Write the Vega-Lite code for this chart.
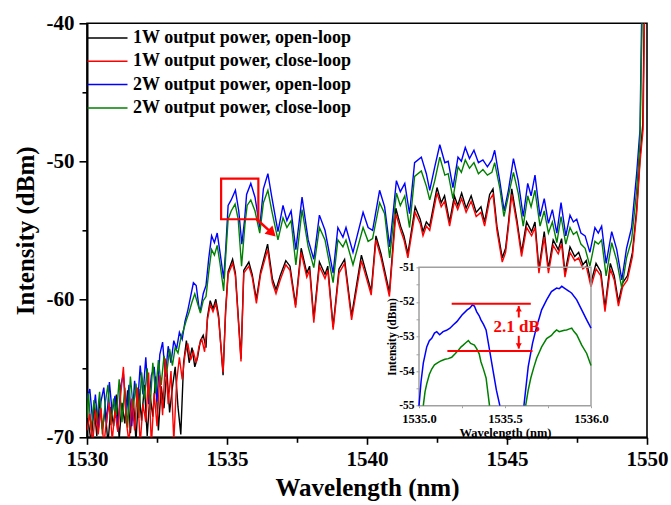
{
"$schema":"https://vega.github.io/schema/vega-lite/v6.json",
"width":560,"height":414,"autosize":"none",
"padding":{"left":87,"top":23.3,"right":24,"bottom":67.7},
"config":{"view":{"stroke":"black","strokeWidth":1.6},"font":"Liberation Serif"},
"datasets":{
"main":[
{"s":"1W output power, open-loop","w":1530.05,"i":-68.9},{"s":"1W output power, open-loop","w":1530.15,"i":-70.4},{"s":"1W output power, open-loop","w":1530.25,"i":-67.6},{"s":"1W output power, open-loop","w":1530.35,"i":-69.9},{"s":"1W output power, open-loop","w":1530.45,"i":-67.2},{"s":"1W output power, open-loop","w":1530.55,"i":-69.4},{"s":"1W output power, open-loop","w":1530.65,"i":-68.0},{"s":"1W output power, open-loop","w":1530.75,"i":-70.5},{"s":"1W output power, open-loop","w":1530.85,"i":-67.8},{"s":"1W output power, open-loop","w":1530.95,"i":-69.2},{"s":"1W output power, open-loop","w":1531.05,"i":-66.9},{"s":"1W output power, open-loop","w":1531.15,"i":-70.1},{"s":"1W output power, open-loop","w":1531.25,"i":-67.5},{"s":"1W output power, open-loop","w":1531.35,"i":-69.0},{"s":"1W output power, open-loop","w":1531.45,"i":-66.6},{"s":"1W output power, open-loop","w":1531.55,"i":-69.7},{"s":"1W output power, open-loop","w":1531.65,"i":-67.1},{"s":"1W output power, open-loop","w":1531.75,"i":-70.3},{"s":"1W output power, open-loop","w":1531.85,"i":-66.5},{"s":"1W output power, open-loop","w":1531.95,"i":-68.8},{"s":"1W output power, open-loop","w":1532.05,"i":-66.2},{"s":"1W output power, open-loop","w":1532.15,"i":-69.9},{"s":"1W output power, open-loop","w":1532.25,"i":-66.9},{"s":"1W output power, open-loop","w":1532.35,"i":-68.5},{"s":"1W output power, open-loop","w":1532.45,"i":-65.6},{"s":"1W output power, open-loop","w":1532.55,"i":-69.5},{"s":"1W output power, open-loop","w":1532.65,"i":-66.3},{"s":"1W output power, open-loop","w":1532.75,"i":-67.9},{"s":"1W output power, open-loop","w":1532.85,"i":-65.1},{"s":"1W output power, open-loop","w":1532.95,"i":-68.2},{"s":"1W output power, open-loop","w":1533.05,"i":-66.4},{"s":"1W output power, open-loop","w":1533.15,"i":-64.9},{"s":"1W output power, open-loop","w":1533.25,"i":-67.8},{"s":"1W output power, open-loop","w":1533.35,"i":-69.8},{"s":"1W output power, open-loop","w":1533.45,"i":-64.6},{"s":"1W output power, open-loop","w":1533.55,"i":-63.0},{"s":"1W output power, open-loop","w":1533.65,"i":-64.6},{"s":"1W output power, open-loop","w":1533.75,"i":-63.5},{"s":"1W output power, open-loop","w":1533.85,"i":-64.9},{"s":"1W output power, open-loop","w":1533.95,"i":-64.2},{"s":"1W output power, open-loop","w":1534.05,"i":-63.0},{"s":"1W output power, open-loop","w":1534.15,"i":-62.6},{"s":"1W output power, open-loop","w":1534.25,"i":-63.5},{"s":"1W output power, open-loop","w":1534.3,"i":-61.3},{"s":"1W output power, open-loop","w":1534.4,"i":-60.1},{"s":"1W output power, open-loop","w":1534.5,"i":-60.7},{"s":"1W output power, open-loop","w":1534.6,"i":-60.0},{"s":"1W output power, open-loop","w":1534.7,"i":-61.2},{"s":"1W output power, open-loop","w":1534.86,"i":-65.5},{"s":"1W output power, open-loop","w":1534.95,"i":-60.8},{"s":"1W output power, open-loop","w":1535.04,"i":-58.0},{"s":"1W output power, open-loop","w":1535.2,"i":-57.1},{"s":"1W output power, open-loop","w":1535.3,"i":-58.1},{"s":"1W output power, open-loop","w":1535.5,"i":-64.3},{"s":"1W output power, open-loop","w":1535.6,"i":-57.9},{"s":"1W output power, open-loop","w":1535.78,"i":-57.3},{"s":"1W output power, open-loop","w":1535.9,"i":-58.2},{"s":"1W output power, open-loop","w":1536.05,"i":-60.0},{"s":"1W output power, open-loop","w":1536.2,"i":-58.0},{"s":"1W output power, open-loop","w":1536.45,"i":-56.0},{"s":"1W output power, open-loop","w":1536.62,"i":-58.5},{"s":"1W output power, open-loop","w":1536.75,"i":-59.3},{"s":"1W output power, open-loop","w":1536.9,"i":-58.3},{"s":"1W output power, open-loop","w":1537.1,"i":-57.2},{"s":"1W output power, open-loop","w":1537.25,"i":-57.6},{"s":"1W output power, open-loop","w":1537.45,"i":-60.4},{"s":"1W output power, open-loop","w":1537.65,"i":-56.3},{"s":"1W output power, open-loop","w":1537.85,"i":-58.1},{"s":"1W output power, open-loop","w":1537.95,"i":-57.6},{"s":"1W output power, open-loop","w":1538.1,"i":-61.4},{"s":"1W output power, open-loop","w":1538.3,"i":-57.3},{"s":"1W output power, open-loop","w":1538.5,"i":-58.2},{"s":"1W output power, open-loop","w":1538.6,"i":-57.6},{"s":"1W output power, open-loop","w":1538.79,"i":-62.0},{"s":"1W output power, open-loop","w":1539.0,"i":-57.8},{"s":"1W output power, open-loop","w":1539.2,"i":-57.1},{"s":"1W output power, open-loop","w":1539.45,"i":-61.2},{"s":"1W output power, open-loop","w":1539.8,"i":-56.8},{"s":"1W output power, open-loop","w":1540.0,"i":-58.3},{"s":"1W output power, open-loop","w":1540.15,"i":-59.4},{"s":"1W output power, open-loop","w":1540.32,"i":-55.4},{"s":"1W output power, open-loop","w":1540.5,"i":-56.7},{"s":"1W output power, open-loop","w":1540.8,"i":-59.5},{"s":"1W output power, open-loop","w":1541.03,"i":-53.4},{"s":"1W output power, open-loop","w":1541.2,"i":-54.7},{"s":"1W output power, open-loop","w":1541.32,"i":-55.4},{"s":"1W output power, open-loop","w":1541.46,"i":-56.7},{"s":"1W output power, open-loop","w":1541.72,"i":-53.3},{"s":"1W output power, open-loop","w":1541.9,"i":-54.2},{"s":"1W output power, open-loop","w":1542.0,"i":-55.1},{"s":"1W output power, open-loop","w":1542.12,"i":-54.4},{"s":"1W output power, open-loop","w":1542.24,"i":-54.7},{"s":"1W output power, open-loop","w":1542.5,"i":-51.9},{"s":"1W output power, open-loop","w":1542.65,"i":-53.0},{"s":"1W output power, open-loop","w":1542.77,"i":-52.5},{"s":"1W output power, open-loop","w":1542.95,"i":-54.4},{"s":"1W output power, open-loop","w":1543.12,"i":-52.5},{"s":"1W output power, open-loop","w":1543.24,"i":-53.2},{"s":"1W output power, open-loop","w":1543.38,"i":-52.3},{"s":"1W output power, open-loop","w":1543.54,"i":-53.4},{"s":"1W output power, open-loop","w":1543.72,"i":-52.5},{"s":"1W output power, open-loop","w":1543.9,"i":-53.7},{"s":"1W output power, open-loop","w":1544.07,"i":-53.3},{"s":"1W output power, open-loop","w":1544.2,"i":-54.4},{"s":"1W output power, open-loop","w":1544.38,"i":-52.4},{"s":"1W output power, open-loop","w":1544.5,"i":-52.0},{"s":"1W output power, open-loop","w":1544.64,"i":-54.7},{"s":"1W output power, open-loop","w":1544.83,"i":-57.0},{"s":"1W output power, open-loop","w":1544.95,"i":-56.3},{"s":"1W output power, open-loop","w":1545.05,"i":-54.5},{"s":"1W output power, open-loop","w":1545.17,"i":-52.0},{"s":"1W output power, open-loop","w":1545.35,"i":-54.2},{"s":"1W output power, open-loop","w":1545.52,"i":-56.6},{"s":"1W output power, open-loop","w":1545.7,"i":-54.4},{"s":"1W output power, open-loop","w":1545.88,"i":-55.1},{"s":"1W output power, open-loop","w":1546.0,"i":-54.4},{"s":"1W output power, open-loop","w":1546.14,"i":-57.8},{"s":"1W output power, open-loop","w":1546.33,"i":-55.1},{"s":"1W output power, open-loop","w":1546.48,"i":-57.8},{"s":"1W output power, open-loop","w":1546.65,"i":-55.7},{"s":"1W output power, open-loop","w":1546.83,"i":-56.4},{"s":"1W output power, open-loop","w":1546.95,"i":-55.6},{"s":"1W output power, open-loop","w":1547.07,"i":-58.1},{"s":"1W output power, open-loop","w":1547.25,"i":-56.2},{"s":"1W output power, open-loop","w":1547.42,"i":-56.9},{"s":"1W output power, open-loop","w":1547.56,"i":-56.6},{"s":"1W output power, open-loop","w":1547.71,"i":-57.5},{"s":"1W output power, open-loop","w":1547.83,"i":-57.2},{"s":"1W output power, open-loop","w":1548.0,"i":-58.8},{"s":"1W output power, open-loop","w":1548.18,"i":-57.4},{"s":"1W output power, open-loop","w":1548.35,"i":-58.0},{"s":"1W output power, open-loop","w":1548.5,"i":-60.6},{"s":"1W output power, open-loop","w":1548.69,"i":-57.4},{"s":"1W output power, open-loop","w":1548.83,"i":-58.3},{"s":"1W output power, open-loop","w":1548.98,"i":-60.2},{"s":"1W output power, open-loop","w":1549.13,"i":-58.8},{"s":"1W output power, open-loop","w":1549.3,"i":-58.3},{"s":"1W output power, open-loop","w":1549.48,"i":-56.6},{"s":"1W output power, open-loop","w":1549.63,"i":-53.5},{"s":"1W output power, open-loop","w":1549.75,"i":-49.8},{"s":"1W output power, open-loop","w":1549.85,"i":-47.3},{"s":"1W output power, open-loop","w":1549.91,"i":-38},
{"s":"2W output power, open-loop","w":1530.0,"i":-67.2},{"s":"2W output power, open-loop","w":1530.1,"i":-66.5},{"s":"2W output power, open-loop","w":1530.2,"i":-68.8},{"s":"2W output power, open-loop","w":1530.3,"i":-66.9},{"s":"2W output power, open-loop","w":1530.4,"i":-69.5},{"s":"2W output power, open-loop","w":1530.5,"i":-67.4},{"s":"2W output power, open-loop","w":1530.6,"i":-66.4},{"s":"2W output power, open-loop","w":1530.7,"i":-69.0},{"s":"2W output power, open-loop","w":1530.8,"i":-66.0},{"s":"2W output power, open-loop","w":1530.9,"i":-68.2},{"s":"2W output power, open-loop","w":1531.0,"i":-67.0},{"s":"2W output power, open-loop","w":1531.1,"i":-69.6},{"s":"2W output power, open-loop","w":1531.2,"i":-66.3},{"s":"2W output power, open-loop","w":1531.3,"i":-65.4},{"s":"2W output power, open-loop","w":1531.4,"i":-68.5},{"s":"2W output power, open-loop","w":1531.5,"i":-66.2},{"s":"2W output power, open-loop","w":1531.6,"i":-69.2},{"s":"2W output power, open-loop","w":1531.7,"i":-65.9},{"s":"2W output power, open-loop","w":1531.8,"i":-67.8},{"s":"2W output power, open-loop","w":1531.9,"i":-64.8},{"s":"2W output power, open-loop","w":1532.0,"i":-66.9},{"s":"2W output power, open-loop","w":1532.1,"i":-64.2},{"s":"2W output power, open-loop","w":1532.2,"i":-67.6},{"s":"2W output power, open-loop","w":1532.3,"i":-65.5},{"s":"2W output power, open-loop","w":1532.4,"i":-64.9},{"s":"2W output power, open-loop","w":1532.5,"i":-67.4},{"s":"2W output power, open-loop","w":1532.6,"i":-64.0},{"s":"2W output power, open-loop","w":1532.7,"i":-63.1},{"s":"2W output power, open-loop","w":1532.8,"i":-65.6},{"s":"2W output power, open-loop","w":1532.9,"i":-63.4},{"s":"2W output power, open-loop","w":1533.0,"i":-64.6},{"s":"2W output power, open-loop","w":1533.1,"i":-63.0},{"s":"2W output power, open-loop","w":1533.2,"i":-63.6},{"s":"2W output power, open-loop","w":1533.3,"i":-62.4},{"s":"2W output power, open-loop","w":1533.4,"i":-62.9},{"s":"2W output power, open-loop","w":1533.5,"i":-61.6},{"s":"2W output power, open-loop","w":1533.6,"i":-60.8},{"s":"2W output power, open-loop","w":1533.7,"i":-59.8},{"s":"2W output power, open-loop","w":1533.8,"i":-58.8},{"s":"2W output power, open-loop","w":1533.9,"i":-59.0},{"s":"2W output power, open-loop","w":1534.0,"i":-60.6},{"s":"2W output power, open-loop","w":1534.05,"i":-60.8},{"s":"2W output power, open-loop","w":1534.15,"i":-59.6},{"s":"2W output power, open-loop","w":1534.25,"i":-59.0},{"s":"2W output power, open-loop","w":1534.35,"i":-57.0},{"s":"2W output power, open-loop","w":1534.45,"i":-55.4},{"s":"2W output power, open-loop","w":1534.55,"i":-55.9},{"s":"2W output power, open-loop","w":1534.65,"i":-55.2},{"s":"2W output power, open-loop","w":1534.75,"i":-56.6},{"s":"2W output power, open-loop","w":1534.88,"i":-58.5},{"s":"2W output power, open-loop","w":1534.95,"i":-56.5},{"s":"2W output power, open-loop","w":1535.04,"i":-53.2},{"s":"2W output power, open-loop","w":1535.15,"i":-52.8},{"s":"2W output power, open-loop","w":1535.3,"i":-52.1},{"s":"2W output power, open-loop","w":1535.42,"i":-53.6},{"s":"2W output power, open-loop","w":1535.53,"i":-56.0},{"s":"2W output power, open-loop","w":1535.63,"i":-54.2},{"s":"2W output power, open-loop","w":1535.7,"i":-52.4},{"s":"2W output power, open-loop","w":1535.85,"i":-51.6},{"s":"2W output power, open-loop","w":1536.0,"i":-52.6},{"s":"2W output power, open-loop","w":1536.17,"i":-54.8},{"s":"2W output power, open-loop","w":1536.3,"i":-52.0},{"s":"2W output power, open-loop","w":1536.46,"i":-50.9},{"s":"2W output power, open-loop","w":1536.6,"i":-52.6},{"s":"2W output power, open-loop","w":1536.82,"i":-55.1},{"s":"2W output power, open-loop","w":1537.0,"i":-53.2},{"s":"2W output power, open-loop","w":1537.14,"i":-54.3},{"s":"2W output power, open-loop","w":1537.29,"i":-53.6},{"s":"2W output power, open-loop","w":1537.46,"i":-56.4},{"s":"2W output power, open-loop","w":1537.68,"i":-52.6},{"s":"2W output power, open-loop","w":1537.9,"i":-55.7},{"s":"2W output power, open-loop","w":1538.1,"i":-57.1},{"s":"2W output power, open-loop","w":1538.3,"i":-53.9},{"s":"2W output power, open-loop","w":1538.5,"i":-55.0},{"s":"2W output power, open-loop","w":1538.79,"i":-58.1},{"s":"2W output power, open-loop","w":1538.96,"i":-54.8},{"s":"2W output power, open-loop","w":1539.14,"i":-55.5},{"s":"2W output power, open-loop","w":1539.25,"i":-54.8},{"s":"2W output power, open-loop","w":1539.5,"i":-56.6},{"s":"2W output power, open-loop","w":1539.86,"i":-53.7},{"s":"2W output power, open-loop","w":1540.04,"i":-54.8},{"s":"2W output power, open-loop","w":1540.2,"i":-55.0},{"s":"2W output power, open-loop","w":1540.45,"i":-52.1},{"s":"2W output power, open-loop","w":1540.63,"i":-53.3},{"s":"2W output power, open-loop","w":1540.81,"i":-56.2},{"s":"2W output power, open-loop","w":1541.05,"i":-51.4},{"s":"2W output power, open-loop","w":1541.19,"i":-52.2},{"s":"2W output power, open-loop","w":1541.35,"i":-51.6},{"s":"2W output power, open-loop","w":1541.52,"i":-53.8},{"s":"2W output power, open-loop","w":1541.7,"i":-50.1},{"s":"2W output power, open-loop","w":1541.94,"i":-49.7},{"s":"2W output power, open-loop","w":1542.12,"i":-50.9},{"s":"2W output power, open-loop","w":1542.24,"i":-52.1},{"s":"2W output power, open-loop","w":1542.42,"i":-50.4},{"s":"2W output power, open-loop","w":1542.6,"i":-48.8},{"s":"2W output power, open-loop","w":1542.78,"i":-50.1},{"s":"2W output power, open-loop","w":1542.9,"i":-50.0},{"s":"2W output power, open-loop","w":1543.07,"i":-51.9},{"s":"2W output power, open-loop","w":1543.25,"i":-49.7},{"s":"2W output power, open-loop","w":1543.37,"i":-50.0},{"s":"2W output power, open-loop","w":1543.51,"i":-49.0},{"s":"2W output power, open-loop","w":1543.66,"i":-49.8},{"s":"2W output power, open-loop","w":1543.82,"i":-49.2},{"s":"2W output power, open-loop","w":1543.98,"i":-50.1},{"s":"2W output power, open-loop","w":1544.14,"i":-49.9},{"s":"2W output power, open-loop","w":1544.3,"i":-50.4},{"s":"2W output power, open-loop","w":1544.46,"i":-49.9},{"s":"2W output power, open-loop","w":1544.56,"i":-49.2},{"s":"2W output power, open-loop","w":1544.74,"i":-51.4},{"s":"2W output power, open-loop","w":1544.9,"i":-53.6},{"s":"2W output power, open-loop","w":1545.05,"i":-52.1},{"s":"2W output power, open-loop","w":1545.23,"i":-49.8},{"s":"2W output power, open-loop","w":1545.4,"i":-51.4},{"s":"2W output power, open-loop","w":1545.58,"i":-54.0},{"s":"2W output power, open-loop","w":1545.74,"i":-51.6},{"s":"2W output power, open-loop","w":1545.86,"i":-52.5},{"s":"2W output power, open-loop","w":1546.0,"i":-51.0},{"s":"2W output power, open-loop","w":1546.18,"i":-54.0},{"s":"2W output power, open-loop","w":1546.33,"i":-52.7},{"s":"2W output power, open-loop","w":1546.48,"i":-54.5},{"s":"2W output power, open-loop","w":1546.62,"i":-53.5},{"s":"2W output power, open-loop","w":1546.78,"i":-55.2},{"s":"2W output power, open-loop","w":1546.93,"i":-53.0},{"s":"2W output power, open-loop","w":1547.1,"i":-55.4},{"s":"2W output power, open-loop","w":1547.25,"i":-53.9},{"s":"2W output power, open-loop","w":1547.37,"i":-54.4},{"s":"2W output power, open-loop","w":1547.49,"i":-54.2},{"s":"2W output power, open-loop","w":1547.64,"i":-55.2},{"s":"2W output power, open-loop","w":1547.79,"i":-55.4},{"s":"2W output power, open-loop","w":1547.96,"i":-56.6},{"s":"2W output power, open-loop","w":1548.14,"i":-54.8},{"s":"2W output power, open-loop","w":1548.26,"i":-55.2},{"s":"2W output power, open-loop","w":1548.38,"i":-54.7},{"s":"2W output power, open-loop","w":1548.54,"i":-57.4},{"s":"2W output power, open-loop","w":1548.74,"i":-55.1},{"s":"2W output power, open-loop","w":1548.92,"i":-56.4},{"s":"2W output power, open-loop","w":1549.1,"i":-58.6},{"s":"2W output power, open-loop","w":1549.27,"i":-56.3},{"s":"2W output power, open-loop","w":1549.45,"i":-54.8},{"s":"2W output power, open-loop","w":1549.63,"i":-50.9},{"s":"2W output power, open-loop","w":1549.75,"i":-47.7},{"s":"2W output power, open-loop","w":1549.82,"i":-38},
{"s":"2W output power, close-loop","w":1530.0,"i":-68.6},{"s":"2W output power, close-loop","w":1530.05,"i":-66.8},{"s":"2W output power, close-loop","w":1530.15,"i":-69.5},{"s":"2W output power, close-loop","w":1530.25,"i":-67.3},{"s":"2W output power, close-loop","w":1530.35,"i":-68.9},{"s":"2W output power, close-loop","w":1530.45,"i":-66.7},{"s":"2W output power, close-loop","w":1530.55,"i":-69.8},{"s":"2W output power, close-loop","w":1530.65,"i":-67.5},{"s":"2W output power, close-loop","w":1530.75,"i":-66.2},{"s":"2W output power, close-loop","w":1530.85,"i":-69.1},{"s":"2W output power, close-loop","w":1530.95,"i":-67.2},{"s":"2W output power, close-loop","w":1531.05,"i":-68.4},{"s":"2W output power, close-loop","w":1531.15,"i":-65.8},{"s":"2W output power, close-loop","w":1531.25,"i":-68.9},{"s":"2W output power, close-loop","w":1531.35,"i":-66.4},{"s":"2W output power, close-loop","w":1531.45,"i":-69.3},{"s":"2W output power, close-loop","w":1531.55,"i":-65.6},{"s":"2W output power, close-loop","w":1531.65,"i":-67.9},{"s":"2W output power, close-loop","w":1531.75,"i":-66.1},{"s":"2W output power, close-loop","w":1531.85,"i":-68.6},{"s":"2W output power, close-loop","w":1531.95,"i":-65.3},{"s":"2W output power, close-loop","w":1532.05,"i":-67.2},{"s":"2W output power, close-loop","w":1532.15,"i":-65.0},{"s":"2W output power, close-loop","w":1532.25,"i":-68.0},{"s":"2W output power, close-loop","w":1532.35,"i":-64.6},{"s":"2W output power, close-loop","w":1532.45,"i":-66.8},{"s":"2W output power, close-loop","w":1532.55,"i":-64.4},{"s":"2W output power, close-loop","w":1532.65,"i":-66.2},{"s":"2W output power, close-loop","w":1532.75,"i":-64.1},{"s":"2W output power, close-loop","w":1532.85,"i":-65.3},{"s":"2W output power, close-loop","w":1532.95,"i":-63.6},{"s":"2W output power, close-loop","w":1533.05,"i":-64.8},{"s":"2W output power, close-loop","w":1533.15,"i":-63.5},{"s":"2W output power, close-loop","w":1533.25,"i":-63.9},{"s":"2W output power, close-loop","w":1533.35,"i":-62.8},{"s":"2W output power, close-loop","w":1533.45,"i":-62.2},{"s":"2W output power, close-loop","w":1533.55,"i":-61.5},{"s":"2W output power, close-loop","w":1533.65,"i":-60.9},{"s":"2W output power, close-loop","w":1533.75,"i":-60.2},{"s":"2W output power, close-loop","w":1533.85,"i":-59.6},{"s":"2W output power, close-loop","w":1533.95,"i":-60.3},{"s":"2W output power, close-loop","w":1534.05,"i":-61.0},{"s":"2W output power, close-loop","w":1534.15,"i":-60.1},{"s":"2W output power, close-loop","w":1534.25,"i":-59.8},{"s":"2W output power, close-loop","w":1534.35,"i":-58.0},{"s":"2W output power, close-loop","w":1534.45,"i":-56.4},{"s":"2W output power, close-loop","w":1534.55,"i":-56.8},{"s":"2W output power, close-loop","w":1534.65,"i":-56.1},{"s":"2W output power, close-loop","w":1534.75,"i":-57.4},{"s":"2W output power, close-loop","w":1534.88,"i":-59.4},{"s":"2W output power, close-loop","w":1534.95,"i":-57.0},{"s":"2W output power, close-loop","w":1535.04,"i":-54.2},{"s":"2W output power, close-loop","w":1535.15,"i":-53.6},{"s":"2W output power, close-loop","w":1535.29,"i":-53.1},{"s":"2W output power, close-loop","w":1535.4,"i":-54.2},{"s":"2W output power, close-loop","w":1535.52,"i":-57.6},{"s":"2W output power, close-loop","w":1535.64,"i":-54.6},{"s":"2W output power, close-loop","w":1535.72,"i":-53.2},{"s":"2W output power, close-loop","w":1535.85,"i":-52.8},{"s":"2W output power, close-loop","w":1536.0,"i":-53.6},{"s":"2W output power, close-loop","w":1536.17,"i":-55.2},{"s":"2W output power, close-loop","w":1536.3,"i":-53.0},{"s":"2W output power, close-loop","w":1536.46,"i":-52.1},{"s":"2W output power, close-loop","w":1536.6,"i":-53.6},{"s":"2W output power, close-loop","w":1536.82,"i":-55.7},{"s":"2W output power, close-loop","w":1537.0,"i":-54.1},{"s":"2W output power, close-loop","w":1537.14,"i":-54.8},{"s":"2W output power, close-loop","w":1537.29,"i":-54.3},{"s":"2W output power, close-loop","w":1537.46,"i":-57.5},{"s":"2W output power, close-loop","w":1537.68,"i":-53.5},{"s":"2W output power, close-loop","w":1537.9,"i":-56.2},{"s":"2W output power, close-loop","w":1538.1,"i":-57.7},{"s":"2W output power, close-loop","w":1538.3,"i":-54.8},{"s":"2W output power, close-loop","w":1538.5,"i":-55.7},{"s":"2W output power, close-loop","w":1538.79,"i":-58.8},{"s":"2W output power, close-loop","w":1538.96,"i":-55.7},{"s":"2W output power, close-loop","w":1539.14,"i":-56.2},{"s":"2W output power, close-loop","w":1539.25,"i":-55.7},{"s":"2W output power, close-loop","w":1539.5,"i":-57.5},{"s":"2W output power, close-loop","w":1539.86,"i":-54.8},{"s":"2W output power, close-loop","w":1540.04,"i":-55.8},{"s":"2W output power, close-loop","w":1540.2,"i":-55.6},{"s":"2W output power, close-loop","w":1540.45,"i":-53.0},{"s":"2W output power, close-loop","w":1540.63,"i":-53.8},{"s":"2W output power, close-loop","w":1540.81,"i":-57.0},{"s":"2W output power, close-loop","w":1541.05,"i":-52.3},{"s":"2W output power, close-loop","w":1541.19,"i":-53.2},{"s":"2W output power, close-loop","w":1541.35,"i":-52.5},{"s":"2W output power, close-loop","w":1541.52,"i":-54.8},{"s":"2W output power, close-loop","w":1541.7,"i":-51.1},{"s":"2W output power, close-loop","w":1541.94,"i":-50.7},{"s":"2W output power, close-loop","w":1542.12,"i":-51.8},{"s":"2W output power, close-loop","w":1542.24,"i":-52.8},{"s":"2W output power, close-loop","w":1542.42,"i":-51.4},{"s":"2W output power, close-loop","w":1542.6,"i":-49.7},{"s":"2W output power, close-loop","w":1542.78,"i":-51.0},{"s":"2W output power, close-loop","w":1542.9,"i":-50.9},{"s":"2W output power, close-loop","w":1543.07,"i":-52.7},{"s":"2W output power, close-loop","w":1543.25,"i":-50.4},{"s":"2W output power, close-loop","w":1543.37,"i":-50.8},{"s":"2W output power, close-loop","w":1543.51,"i":-49.9},{"s":"2W output power, close-loop","w":1543.66,"i":-50.5},{"s":"2W output power, close-loop","w":1543.82,"i":-50.1},{"s":"2W output power, close-loop","w":1543.98,"i":-50.9},{"s":"2W output power, close-loop","w":1544.14,"i":-50.6},{"s":"2W output power, close-loop","w":1544.3,"i":-51.0},{"s":"2W output power, close-loop","w":1544.46,"i":-50.8},{"s":"2W output power, close-loop","w":1544.56,"i":-50.1},{"s":"2W output power, close-loop","w":1544.74,"i":-51.9},{"s":"2W output power, close-loop","w":1544.89,"i":-54.0},{"s":"2W output power, close-loop","w":1545.05,"i":-52.5},{"s":"2W output power, close-loop","w":1545.23,"i":-50.8},{"s":"2W output power, close-loop","w":1545.4,"i":-52.3},{"s":"2W output power, close-loop","w":1545.58,"i":-54.7},{"s":"2W output power, close-loop","w":1545.74,"i":-52.5},{"s":"2W output power, close-loop","w":1545.86,"i":-53.3},{"s":"2W output power, close-loop","w":1546.0,"i":-52.1},{"s":"2W output power, close-loop","w":1546.18,"i":-54.7},{"s":"2W output power, close-loop","w":1546.33,"i":-53.6},{"s":"2W output power, close-loop","w":1546.48,"i":-55.2},{"s":"2W output power, close-loop","w":1546.62,"i":-54.4},{"s":"2W output power, close-loop","w":1546.78,"i":-55.9},{"s":"2W output power, close-loop","w":1546.93,"i":-54.0},{"s":"2W output power, close-loop","w":1547.1,"i":-56.0},{"s":"2W output power, close-loop","w":1547.25,"i":-54.8},{"s":"2W output power, close-loop","w":1547.37,"i":-55.3},{"s":"2W output power, close-loop","w":1547.49,"i":-55.1},{"s":"2W output power, close-loop","w":1547.64,"i":-56.0},{"s":"2W output power, close-loop","w":1547.79,"i":-56.3},{"s":"2W output power, close-loop","w":1547.96,"i":-57.6},{"s":"2W output power, close-loop","w":1548.14,"i":-55.8},{"s":"2W output power, close-loop","w":1548.26,"i":-56.0},{"s":"2W output power, close-loop","w":1548.38,"i":-55.7},{"s":"2W output power, close-loop","w":1548.54,"i":-58.3},{"s":"2W output power, close-loop","w":1548.74,"i":-55.9},{"s":"2W output power, close-loop","w":1548.92,"i":-57.2},{"s":"2W output power, close-loop","w":1549.1,"i":-59.2},{"s":"2W output power, close-loop","w":1549.27,"i":-57.0},{"s":"2W output power, close-loop","w":1549.45,"i":-55.7},{"s":"2W output power, close-loop","w":1549.63,"i":-52.1},{"s":"2W output power, close-loop","w":1549.75,"i":-48.5},{"s":"2W output power, close-loop","w":1549.84,"i":-38},
{"s":"1W output power, close-loop","w":1530.0,"i":-69.5},{"s":"1W output power, close-loop","w":1530.1,"i":-68.3},{"s":"1W output power, close-loop","w":1530.2,"i":-70.5},{"s":"1W output power, close-loop","w":1530.3,"i":-68.0},{"s":"1W output power, close-loop","w":1530.4,"i":-69.8},{"s":"1W output power, close-loop","w":1530.5,"i":-67.9},{"s":"1W output power, close-loop","w":1530.6,"i":-70.6},{"s":"1W output power, close-loop","w":1530.7,"i":-68.7},{"s":"1W output power, close-loop","w":1530.8,"i":-67.5},{"s":"1W output power, close-loop","w":1530.9,"i":-70.2},{"s":"1W output power, close-loop","w":1531.0,"i":-68.1},{"s":"1W output power, close-loop","w":1531.1,"i":-69.6},{"s":"1W output power, close-loop","w":1531.2,"i":-67.0},{"s":"1W output power, close-loop","w":1531.3,"i":-64.9},{"s":"1W output power, close-loop","w":1531.4,"i":-68.8},{"s":"1W output power, close-loop","w":1531.5,"i":-70.4},{"s":"1W output power, close-loop","w":1531.6,"i":-67.2},{"s":"1W output power, close-loop","w":1531.7,"i":-69.5},{"s":"1W output power, close-loop","w":1531.8,"i":-66.4},{"s":"1W output power, close-loop","w":1531.9,"i":-70.5},{"s":"1W output power, close-loop","w":1532.0,"i":-67.6},{"s":"1W output power, close-loop","w":1532.1,"i":-68.9},{"s":"1W output power, close-loop","w":1532.2,"i":-65.3},{"s":"1W output power, close-loop","w":1532.3,"i":-70.6},{"s":"1W output power, close-loop","w":1532.4,"i":-66.8},{"s":"1W output power, close-loop","w":1532.5,"i":-69.2},{"s":"1W output power, close-loop","w":1532.6,"i":-65.5},{"s":"1W output power, close-loop","w":1532.7,"i":-68.4},{"s":"1W output power, close-loop","w":1532.8,"i":-64.3},{"s":"1W output power, close-loop","w":1532.9,"i":-67.6},{"s":"1W output power, close-loop","w":1533.0,"i":-65.2},{"s":"1W output power, close-loop","w":1533.1,"i":-70.3},{"s":"1W output power, close-loop","w":1533.2,"i":-66.0},{"s":"1W output power, close-loop","w":1533.3,"i":-64.2},{"s":"1W output power, close-loop","w":1533.4,"i":-65.8},{"s":"1W output power, close-loop","w":1533.5,"i":-64.0},{"s":"1W output power, close-loop","w":1533.6,"i":-63.2},{"s":"1W output power, close-loop","w":1533.7,"i":-64.4},{"s":"1W output power, close-loop","w":1533.8,"i":-63.8},{"s":"1W output power, close-loop","w":1533.9,"i":-64.6},{"s":"1W output power, close-loop","w":1534.0,"i":-63.4},{"s":"1W output power, close-loop","w":1534.1,"i":-62.9},{"s":"1W output power, close-loop","w":1534.2,"i":-63.8},{"s":"1W output power, close-loop","w":1534.3,"i":-61.5},{"s":"1W output power, close-loop","w":1534.4,"i":-60.4},{"s":"1W output power, close-loop","w":1534.5,"i":-60.9},{"s":"1W output power, close-loop","w":1534.6,"i":-60.3},{"s":"1W output power, close-loop","w":1534.7,"i":-61.4},{"s":"1W output power, close-loop","w":1534.86,"i":-65.3},{"s":"1W output power, close-loop","w":1534.95,"i":-61.0},{"s":"1W output power, close-loop","w":1535.04,"i":-58.2},{"s":"1W output power, close-loop","w":1535.2,"i":-57.4},{"s":"1W output power, close-loop","w":1535.3,"i":-58.3},{"s":"1W output power, close-loop","w":1535.5,"i":-64.5},{"s":"1W output power, close-loop","w":1535.6,"i":-58.1},{"s":"1W output power, close-loop","w":1535.78,"i":-57.6},{"s":"1W output power, close-loop","w":1535.9,"i":-58.4},{"s":"1W output power, close-loop","w":1536.05,"i":-60.3},{"s":"1W output power, close-loop","w":1536.2,"i":-58.2},{"s":"1W output power, close-loop","w":1536.45,"i":-56.4},{"s":"1W output power, close-loop","w":1536.62,"i":-58.8},{"s":"1W output power, close-loop","w":1536.75,"i":-59.6},{"s":"1W output power, close-loop","w":1536.9,"i":-58.6},{"s":"1W output power, close-loop","w":1537.1,"i":-57.5},{"s":"1W output power, close-loop","w":1537.25,"i":-57.9},{"s":"1W output power, close-loop","w":1537.45,"i":-60.6},{"s":"1W output power, close-loop","w":1537.65,"i":-56.6},{"s":"1W output power, close-loop","w":1537.85,"i":-58.4},{"s":"1W output power, close-loop","w":1537.95,"i":-57.9},{"s":"1W output power, close-loop","w":1538.1,"i":-61.7},{"s":"1W output power, close-loop","w":1538.3,"i":-57.6},{"s":"1W output power, close-loop","w":1538.5,"i":-58.5},{"s":"1W output power, close-loop","w":1538.6,"i":-57.9},{"s":"1W output power, close-loop","w":1538.79,"i":-62.2},{"s":"1W output power, close-loop","w":1539.0,"i":-58.1},{"s":"1W output power, close-loop","w":1539.2,"i":-57.4},{"s":"1W output power, close-loop","w":1539.45,"i":-61.5},{"s":"1W output power, close-loop","w":1539.8,"i":-57.2},{"s":"1W output power, close-loop","w":1540.0,"i":-58.6},{"s":"1W output power, close-loop","w":1540.15,"i":-59.7},{"s":"1W output power, close-loop","w":1540.32,"i":-55.7},{"s":"1W output power, close-loop","w":1540.5,"i":-57.0},{"s":"1W output power, close-loop","w":1540.8,"i":-59.8},{"s":"1W output power, close-loop","w":1541.03,"i":-53.8},{"s":"1W output power, close-loop","w":1541.2,"i":-55.0},{"s":"1W output power, close-loop","w":1541.32,"i":-55.7},{"s":"1W output power, close-loop","w":1541.46,"i":-57.0},{"s":"1W output power, close-loop","w":1541.72,"i":-53.7},{"s":"1W output power, close-loop","w":1541.9,"i":-54.5},{"s":"1W output power, close-loop","w":1542.0,"i":-55.4},{"s":"1W output power, close-loop","w":1542.12,"i":-54.7},{"s":"1W output power, close-loop","w":1542.24,"i":-55.0},{"s":"1W output power, close-loop","w":1542.5,"i":-52.3},{"s":"1W output power, close-loop","w":1542.65,"i":-53.3},{"s":"1W output power, close-loop","w":1542.77,"i":-52.9},{"s":"1W output power, close-loop","w":1542.95,"i":-54.7},{"s":"1W output power, close-loop","w":1543.12,"i":-52.9},{"s":"1W output power, close-loop","w":1543.24,"i":-53.5},{"s":"1W output power, close-loop","w":1543.38,"i":-52.7},{"s":"1W output power, close-loop","w":1543.54,"i":-53.7},{"s":"1W output power, close-loop","w":1543.72,"i":-52.9},{"s":"1W output power, close-loop","w":1543.9,"i":-54.0},{"s":"1W output power, close-loop","w":1544.07,"i":-53.7},{"s":"1W output power, close-loop","w":1544.2,"i":-54.7},{"s":"1W output power, close-loop","w":1544.38,"i":-52.8},{"s":"1W output power, close-loop","w":1544.5,"i":-52.4},{"s":"1W output power, close-loop","w":1544.64,"i":-55.0},{"s":"1W output power, close-loop","w":1544.83,"i":-57.3},{"s":"1W output power, close-loop","w":1544.95,"i":-56.6},{"s":"1W output power, close-loop","w":1545.05,"i":-54.8},{"s":"1W output power, close-loop","w":1545.17,"i":-52.4},{"s":"1W output power, close-loop","w":1545.35,"i":-54.5},{"s":"1W output power, close-loop","w":1545.52,"i":-56.9},{"s":"1W output power, close-loop","w":1545.7,"i":-54.8},{"s":"1W output power, close-loop","w":1545.88,"i":-55.4},{"s":"1W output power, close-loop","w":1546.0,"i":-54.8},{"s":"1W output power, close-loop","w":1546.14,"i":-58.1},{"s":"1W output power, close-loop","w":1546.33,"i":-55.5},{"s":"1W output power, close-loop","w":1546.48,"i":-58.1},{"s":"1W output power, close-loop","w":1546.65,"i":-56.1},{"s":"1W output power, close-loop","w":1546.83,"i":-56.7},{"s":"1W output power, close-loop","w":1546.95,"i":-56.0},{"s":"1W output power, close-loop","w":1547.07,"i":-58.4},{"s":"1W output power, close-loop","w":1547.25,"i":-56.6},{"s":"1W output power, close-loop","w":1547.42,"i":-57.2},{"s":"1W output power, close-loop","w":1547.56,"i":-57.0},{"s":"1W output power, close-loop","w":1547.71,"i":-57.8},{"s":"1W output power, close-loop","w":1547.83,"i":-57.6},{"s":"1W output power, close-loop","w":1548.0,"i":-59.1},{"s":"1W output power, close-loop","w":1548.18,"i":-57.8},{"s":"1W output power, close-loop","w":1548.35,"i":-58.3},{"s":"1W output power, close-loop","w":1548.5,"i":-60.9},{"s":"1W output power, close-loop","w":1548.69,"i":-57.8},{"s":"1W output power, close-loop","w":1548.83,"i":-58.6},{"s":"1W output power, close-loop","w":1548.98,"i":-60.5},{"s":"1W output power, close-loop","w":1549.13,"i":-59.1},{"s":"1W output power, close-loop","w":1549.3,"i":-58.6},{"s":"1W output power, close-loop","w":1549.48,"i":-56.9},{"s":"1W output power, close-loop","w":1549.63,"i":-53.8},{"s":"1W output power, close-loop","w":1549.75,"i":-50.1},{"s":"1W output power, close-loop","w":1549.86,"i":-47.7},{"s":"1W output power, close-loop","w":1549.92,"i":-38}
],
"inset":[
{"s":"2W open","g":"bL","w":1535.0,"i":-55.0},{"s":"2W open","g":"bL","w":1535.012,"i":-54.3},{"s":"2W open","g":"bL","w":1535.025,"i":-53.77},{"s":"2W open","g":"bL","w":1535.045,"i":-53.3},{"s":"2W open","g":"bL","w":1535.06,"i":-53.12},{"s":"2W open","g":"bL","w":1535.074,"i":-53.05},{"s":"2W open","g":"bL","w":1535.09,"i":-52.9},{"s":"2W open","g":"bL","w":1535.103,"i":-52.86},{"s":"2W open","g":"bL","w":1535.12,"i":-52.95},{"s":"2W open","g":"bL","w":1535.14,"i":-52.86},{"s":"2W open","g":"bL","w":1535.16,"i":-52.82},{"s":"2W open","g":"bL","w":1535.18,"i":-52.76},{"s":"2W open","g":"bL","w":1535.2,"i":-52.66},{"s":"2W open","g":"bL","w":1535.22,"i":-52.57},{"s":"2W open","g":"bL","w":1535.25,"i":-52.38},{"s":"2W open","g":"bL","w":1535.28,"i":-52.23},{"s":"2W open","g":"bL","w":1535.295,"i":-52.18},{"s":"2W open","g":"bL","w":1535.31,"i":-52.09},{"s":"2W open","g":"bL","w":1535.322,"i":-52.12},{"s":"2W open","g":"bL","w":1535.335,"i":-52.28},{"s":"2W open","g":"bL","w":1535.35,"i":-52.4},{"s":"2W open","g":"bL","w":1535.36,"i":-52.52},{"s":"2W open","g":"bL","w":1535.375,"i":-52.65},{"s":"2W open","g":"bL","w":1535.39,"i":-52.81},{"s":"2W open","g":"bL","w":1535.41,"i":-53.39},{"s":"2W open","g":"bL","w":1535.43,"i":-53.97},{"s":"2W open","g":"bL","w":1535.45,"i":-54.55},{"s":"2W open","g":"bL","w":1535.47,"i":-55.0},
{"s":"2W open","g":"bR","w":1535.61,"i":-55.0},{"s":"2W open","g":"bR","w":1535.635,"i":-53.87},{"s":"2W open","g":"bR","w":1535.66,"i":-53.2},{"s":"2W open","g":"bR","w":1535.684,"i":-52.71},{"s":"2W open","g":"bR","w":1535.7,"i":-52.45},{"s":"2W open","g":"bR","w":1535.713,"i":-52.23},{"s":"2W open","g":"bR","w":1535.742,"i":-51.94},{"s":"2W open","g":"bR","w":1535.77,"i":-51.7},{"s":"2W open","g":"bR","w":1535.8,"i":-51.6},{"s":"2W open","g":"bR","w":1535.815,"i":-51.62},{"s":"2W open","g":"bR","w":1535.83,"i":-51.55},{"s":"2W open","g":"bR","w":1535.845,"i":-51.6},{"s":"2W open","g":"bR","w":1535.86,"i":-51.65},{"s":"2W open","g":"bR","w":1535.875,"i":-51.7},{"s":"2W open","g":"bR","w":1535.888,"i":-51.75},{"s":"2W open","g":"bR","w":1535.917,"i":-51.94},{"s":"2W open","g":"bR","w":1535.946,"i":-52.23},{"s":"2W open","g":"bR","w":1535.975,"i":-52.52},{"s":"2W open","g":"bR","w":1536.0,"i":-52.76},
{"s":"2W close","g":"gL","w":1535.025,"i":-55.0},{"s":"2W close","g":"gL","w":1535.035,"i":-54.6},{"s":"2W close","g":"gL","w":1535.045,"i":-54.37},{"s":"2W close","g":"gL","w":1535.06,"i":-54.1},{"s":"2W close","g":"gL","w":1535.074,"i":-53.94},{"s":"2W close","g":"gL","w":1535.09,"i":-53.82},{"s":"2W close","g":"gL","w":1535.112,"i":-53.75},{"s":"2W close","g":"gL","w":1535.13,"i":-53.7},{"s":"2W close","g":"gL","w":1535.151,"i":-53.66},{"s":"2W close","g":"gL","w":1535.17,"i":-53.64},{"s":"2W close","g":"gL","w":1535.19,"i":-53.6},{"s":"2W close","g":"gL","w":1535.21,"i":-53.5},{"s":"2W close","g":"gL","w":1535.23,"i":-53.39},{"s":"2W close","g":"gL","w":1535.245,"i":-53.3},{"s":"2W close","g":"gL","w":1535.257,"i":-53.25},{"s":"2W close","g":"gL","w":1535.272,"i":-53.18},{"s":"2W close","g":"gL","w":1535.287,"i":-53.12},{"s":"2W close","g":"gL","w":1535.3,"i":-53.2},{"s":"2W close","g":"gL","w":1535.31,"i":-53.22},{"s":"2W close","g":"gL","w":1535.322,"i":-53.25},{"s":"2W close","g":"gL","w":1535.335,"i":-53.35},{"s":"2W close","g":"gL","w":1535.35,"i":-53.5},{"s":"2W close","g":"gL","w":1535.36,"i":-53.73},{"s":"2W close","g":"gL","w":1535.375,"i":-53.95},{"s":"2W close","g":"gL","w":1535.39,"i":-54.2},{"s":"2W close","g":"gL","w":1535.4,"i":-54.6},{"s":"2W close","g":"gL","w":1535.41,"i":-55.0},
{"s":"2W close","g":"gR","w":1535.62,"i":-55.0},{"s":"2W close","g":"gR","w":1535.635,"i":-54.55},{"s":"2W close","g":"gR","w":1535.65,"i":-54.2},{"s":"2W close","g":"gR","w":1535.667,"i":-53.9},{"s":"2W close","g":"gR","w":1535.684,"i":-53.63},{"s":"2W close","g":"gR","w":1535.7,"i":-53.45},{"s":"2W close","g":"gR","w":1535.713,"i":-53.3},{"s":"2W close","g":"gR","w":1535.742,"i":-53.06},{"s":"2W close","g":"gR","w":1535.77,"i":-52.97},{"s":"2W close","g":"gR","w":1535.785,"i":-52.88},{"s":"2W close","g":"gR","w":1535.8,"i":-52.81},{"s":"2W close","g":"gR","w":1535.815,"i":-52.86},{"s":"2W close","g":"gR","w":1535.83,"i":-52.84},{"s":"2W close","g":"gR","w":1535.845,"i":-52.82},{"s":"2W close","g":"gR","w":1535.858,"i":-52.81},{"s":"2W close","g":"gR","w":1535.875,"i":-52.78},{"s":"2W close","g":"gR","w":1535.888,"i":-52.76},{"s":"2W close","g":"gR","w":1535.9,"i":-52.85},{"s":"2W close","g":"gR","w":1535.917,"i":-52.95},{"s":"2W close","g":"gR","w":1535.946,"i":-53.25},{"s":"2W close","g":"gR","w":1535.975,"i":-53.49},{"s":"2W close","g":"gR","w":1536.0,"i":-53.84}
]
},
"layer":[
{"layer":[
 {"data":{"name":"main"},
  "mark":{"type":"line","strokeWidth":1.4,"clip":true},
  "encoding":{
   "x":{"field":"w","type":"quantitative","scale":{"domain":[1530,1550],"nice":false,"zero":false},"axis":null},
   "y":{"field":"i","type":"quantitative","scale":{"domain":[-70,-40],"nice":false,"zero":false},"axis":null},
   "color":{"field":"s","type":"nominal",
     "scale":{"domain":["1W output power, open-loop","1W output power, close-loop","2W output power, open-loop","2W output power, close-loop"],"range":["#000000","#ff0000","#0000ff","#008000"]},
     "legend":{"orient":"none","legendX":11.5,"legendY":5.7,"title":null,"symbolType":"M-4,0H4","symbolSize":100,"symbolStrokeWidth":1.5,
       "labelFont":"Liberation Serif","labelFontSize":18,"labelFontWeight":"bold","labelColor":"black","labelOffset":16.5,"rowPadding":5.3,"padding":0,"labelLimit":400}}
  }},
 {"data":{"values":[{"x1":1534.79,"x2":1536.12,"y1":-51.25,"y2":-54.2}]},
  "mark":{"type":"rect","fill":"transparent","stroke":"#ff0000","strokeWidth":2.2},
  "encoding":{
   "x":{"field":"x1","type":"quantitative","scale":{"domain":[1530,1550],"nice":false,"zero":false},"axis":null},
   "x2":{"field":"x2"},
   "y":{"field":"y1","type":"quantitative","scale":{"domain":[-70,-40],"nice":false,"zero":false},"axis":null},
   "y2":{"field":"y2"}}},
 {"data":{"values":[{"x1":1536.06,"y1":-54.2,"x2":1536.55,"y2":-55.1}]},
  "mark":{"type":"rule","stroke":"#ff0000","strokeWidth":2.5},
  "encoding":{
   "x":{"field":"x1","type":"quantitative","scale":{"domain":[1530,1550],"nice":false,"zero":false},"axis":null},
   "x2":{"field":"x2"},
   "y":{"field":"y1","type":"quantitative","scale":{"domain":[-70,-40],"nice":false,"zero":false},"axis":null},
   "y2":{"field":"y2"}}},
 {"data":{"values":[{"x":1536.61,"y":-55.2}]},
  "mark":{"type":"point","shape":"triangle-right","angle":43.6,"size":130,"filled":true,"color":"#ff0000","opacity":1},
  "encoding":{
   "x":{"field":"x","type":"quantitative","scale":{"domain":[1530,1550],"nice":false,"zero":false},"axis":null},
   "y":{"field":"y","type":"quantitative","scale":{"domain":[-70,-40],"nice":false,"zero":false},"axis":null}}}
]},
{"data":{"values":[{"w":1530,"i":-70}]},
 "mark":{"type":"point","opacity":0},
 "encoding":{
  "x":{"field":"w","type":"quantitative","scale":{"domain":[1530,1550],"nice":false,"zero":false},
    "axis":{"orient":"bottom","title":"Wavelength (nm)","values":[1530,1535,1540,1545,1550],"format":"d",
      "labelFont":"Liberation Serif","labelFontSize":21,"labelFontWeight":"bold","labelColor":"black","labelPadding":4,"labelOverlap":false,"labelFlush":false,
      "tickSize":7,"tickWidth":1.6,"tickColor":"black","domainColor":"black","domainWidth":2,"grid":false,
      "titleFont":"Liberation Serif","titleFontSize":25,"titleFontWeight":"bold","titleColor":"black","titlePadding":6}},
  "y":{"field":"i","type":"quantitative","scale":{"domain":[-70,-40],"nice":false,"zero":false},
    "axis":{"orient":"left","title":"Intensity (dBm)","values":[-70,-60,-50,-40],"labelExpr":"replace(datum.label, '\u2212', '-')",
      "labelFont":"Liberation Serif","labelFontSize":21,"labelFontWeight":"bold","labelColor":"black","labelPadding":5,"labelOverlap":false,"labelFlush":false,
      "tickSize":8,"tickWidth":1.6,"tickColor":"black","domainColor":"black","domainWidth":2,"grid":false,
      "titleFont":"Liberation Serif","titleFontSize":25,"titleFontWeight":"bold","titleColor":"black","titlePadding":8}}}},
{"data":{"values":[{"w":1530,"i":-70}]},
 "mark":{"type":"point","opacity":0},
 "encoding":{
  "x":{"field":"w","type":"quantitative","scale":{"domain":[1530,1550],"nice":false,"zero":false},
    "axis":{"orient":"bottom","values":[1532.5,1537.5,1542.5,1547.5],"labels":false,"title":null,"domain":false,"tickSize":5,"tickWidth":1.6,"tickColor":"black","grid":false}},
  "y":{"field":"i","type":"quantitative","scale":{"domain":[-70,-40],"nice":false,"zero":false},
    "axis":{"orient":"left","values":[-65,-55,-45],"labels":false,"title":null,"domain":false,"tickSize":5,"tickWidth":1.6,"tickColor":"black","grid":false}}}},
{"layer":[
 {"data":{"values":[{"x1":1535,"x2":1536,"y1":-51,"y2":-55}]},
  "mark":{"type":"rect","fill":"transparent","stroke":"#a0a0a0","strokeWidth":1.5},
  "encoding":{
   "x":{"field":"x1","type":"quantitative","scale":{"domain":[1535,1536],"range":[332,504],"nice":false,"zero":false},"axis":null},
   "x2":{"field":"x2"},
   "y":{"field":"y1","type":"quantitative","scale":{"domain":[-55,-51],"range":[382.4,244],"nice":false,"zero":false},"axis":null},
   "y2":{"field":"y2"}}},
 {"data":{"name":"inset"},
  "mark":{"type":"line","strokeWidth":1.5},
  "encoding":{
   "x":{"field":"w","type":"quantitative","scale":{"domain":[1535,1536],"range":[332,504],"nice":false,"zero":false},"axis":null},
   "y":{"field":"i","type":"quantitative","scale":{"domain":[-55,-51],"range":[382.4,244],"nice":false,"zero":false},"axis":null},
   "color":{"field":"s","type":"nominal","scale":{"domain":["2W open","2W close"],"range":["#0000ff","#008000"]},"legend":null},
   "detail":{"field":"g","type":"nominal"}}},
 {"data":{"values":[{"x1":1535.19,"x2":1535.65,"y1":-52.05,"y2":-52.05},{"x1":1535.165,"x2":1535.66,"y1":-53.42,"y2":-53.42},{"x1":1535.58,"x2":1535.58,"y1":-52.12,"y2":-52.45},{"x1":1535.58,"x2":1535.58,"y1":-52.98,"y2":-53.35}]},
  "mark":{"type":"rule","stroke":"#ff0000","strokeWidth":2},
  "encoding":{
   "x":{"field":"x1","type":"quantitative","scale":{"domain":[1535,1536],"range":[332,504],"nice":false,"zero":false},"axis":null},
   "x2":{"field":"x2"},
   "y":{"field":"y1","type":"quantitative","scale":{"domain":[-55,-51],"range":[382.4,244],"nice":false,"zero":false},"axis":null},
   "y2":{"field":"y2"}}},
 {"data":{"values":[{"x":1535.58,"y":-52.2,"sh":"triangle-up"},{"x":1535.58,"y":-53.27,"sh":"triangle-down"}]},
  "mark":{"type":"point","size":36,"filled":true,"color":"#ff0000","opacity":1},
  "encoding":{
   "x":{"field":"x","type":"quantitative","scale":{"domain":[1535,1536],"range":[332,504],"nice":false,"zero":false},"axis":null},
   "y":{"field":"y","type":"quantitative","scale":{"domain":[-55,-51],"range":[382.4,244],"nice":false,"zero":false},"axis":null},
   "shape":{"field":"sh","type":"nominal","scale":null}}},
 {"data":{"values":[{"x":1535.568,"y":-52.73,"t":"2.1 dB"}]},
  "mark":{"type":"text","font":"Liberation Serif","fontSize":17,"fontWeight":"bold","color":"#ff0000","align":"center","baseline":"middle"},
  "encoding":{
   "x":{"field":"x","type":"quantitative","scale":{"domain":[1535,1536],"range":[332,504],"nice":false,"zero":false},"axis":null},
   "y":{"field":"y","type":"quantitative","scale":{"domain":[-55,-51],"range":[382.4,244],"nice":false,"zero":false},"axis":null},
   "text":{"field":"t"}}}
]},
{"data":{"values":[{"w":1535,"i":-55}]},
 "mark":{"type":"point","opacity":0},
 "encoding":{
  "x":{"field":"w","type":"quantitative","scale":{"domain":[1535,1536],"range":[332,504],"nice":false,"zero":false},
    "axis":{"orient":"bottom","offset":-31.6,"title":"Wavelength (nm)","values":[1535,1535.25,1535.5,1535.75,1536],
      "labelExpr":"(datum.value*2) % 1 === 0 ? format(datum.value,'.1f') : ''","domain":false,
      "tickSize":2,"tickColor":"#a0a0a0","tickWidth":1,
      "labelFont":"Liberation Serif","labelFontSize":12.5,"labelFontWeight":"bold","labelColor":"black","labelPadding":5,"labelFlush":false,"labelOverlap":false,"grid":false,
      "titleFont":"Liberation Serif","titleFontSize":12.5,"titleFontWeight":"bold","titleColor":"black","titlePadding":1}},
  "y":{"field":"i","type":"quantitative","scale":{"domain":[-55,-51],"range":[382.4,244],"nice":false,"zero":false},
    "axis":{"orient":"left","offset":-332,"title":"Intensity (dBm)","values":[-55,-54.5,-54,-53.5,-53,-52.5,-52,-51.5,-51],
      "labelExpr":"datum.value % 1 === 0 ? replace(format(datum.value,'d'), '\u2212', '-') : ''","domain":false,
      "tickSize":3,"tickColor":"#a0a0a0","tickWidth":1,
      "labelFont":"Liberation Serif","labelFontSize":11.5,"labelFontWeight":"bold","labelColor":"black","labelPadding":2,"labelFlush":false,"labelOverlap":false,"grid":false,
      "titleFont":"Liberation Serif","titleFontSize":11.5,"titleFontWeight":"bold","titleColor":"black","titlePadding":1}}}}
],
"resolve":{"scale":{"x":"independent","y":"independent","color":"independent","shape":"independent"}}
}
